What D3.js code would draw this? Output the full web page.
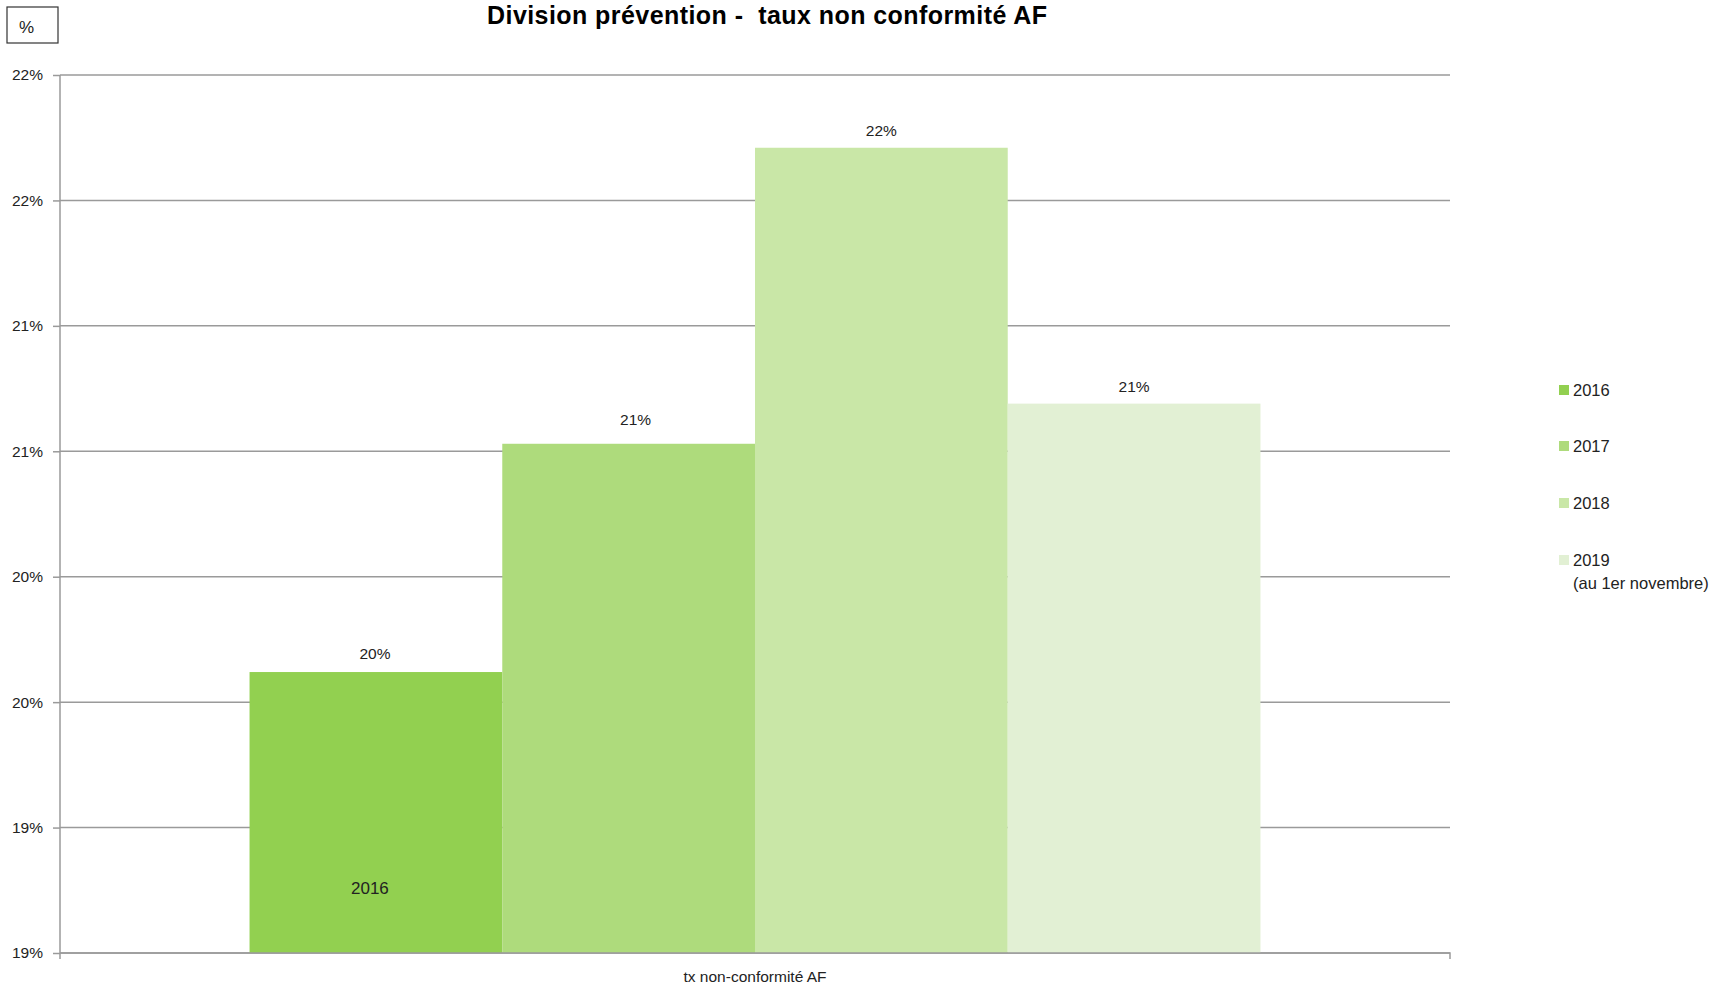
<!DOCTYPE html>
<html><head><meta charset="utf-8">
<script src="https://cdn.jsdelivr.net/npm/d3@7"></script>
<style>
html,body{margin:0;padding:0;background:#fff;}
svg{display:block;font-family:"Liberation Sans",Arial,sans-serif;}
</style></head>
<body><svg id="c" width="1735" height="987"></svg>
<script>
const categories = ["tx non-conformité AF"];
const years = ["2016", "2017", "2018", "2019"];
const legendLabels = [["2016"], ["2017"], ["2018"], ["2019", "(au 1er novembre)"]];
const values = [19.62, 20.53, 21.71, 20.69];
const colors = ["#92D050", "#AEDB7C", "#C9E7A7", "#E2F0D4"];
const yTicks = [18.5, 19, 19.5, 20, 20.5, 21, 21.5, 22];
const title = "Division prévention -  taux non conformité AF";
const unitLabel = "%";
const innerLabel = "2016";
// label placement tweaks (style only)
const labelDx = [-1, 7, 0, 0];
const labelDy = [-18, -24, -17, -17];

const svg = d3.select("#c");
const L = 60, R = 1450, T = 75, B = 953;
const pct = v => Math.round(v) + "%";

const y = d3.scaleLinear().domain([18.5, 22]).range([B, T]);
const x0 = d3.scaleBand().domain(categories).range([L, R]).paddingInner(0).paddingOuter(0.1875);
const x1 = d3.scaleBand().domain(years).range([0, x0.bandwidth()]).padding(0);

// gridlines
svg.append("g").selectAll("line").data(yTicks).join("line")
  .attr("x1", L).attr("x2", R).attr("y1", d => y(d)).attr("y2", d => y(d))
  .attr("stroke", "#9a9a9a").attr("stroke-width", 1.5);

// bars
const g = svg.append("g").attr("transform", `translate(${x0(categories[0])},0)`);
g.selectAll("rect").data(values).join("rect")
  .attr("x", (d, i) => x1(years[i])).attr("width", x1.bandwidth())
  .attr("y", d => y(d)).attr("height", d => B - y(d))
  .attr("fill", (d, i) => colors[i]);
g.selectAll("text.v").data(values).join("text").attr("class", "v")
  .attr("x", (d, i) => x1(years[i]) + x1.bandwidth() / 2 + labelDx[i])
  .attr("y", (d, i) => y(d) + labelDy[i]).attr("dy", "0.35em")
  .attr("text-anchor", "middle").attr("font-size", 15.5).attr("fill", "#222")
  .text(d => pct(d));
g.append("text").attr("x", x1(innerLabel) + x1.bandwidth() / 2 - 6)
  .attr("y", 888).attr("dy", "0.35em").attr("text-anchor", "middle")
  .attr("font-size", 17).attr("fill", "#222").text(innerLabel);

// y axis
const ya = svg.append("g").attr("transform", `translate(${L},0)`)
  .call(d3.axisLeft(y).tickValues(yTicks).tickFormat(pct).tickSize(7).tickPadding(10));
ya.select(".domain").attr("stroke", "#9a9a9a").attr("stroke-width", 1.5)
  .attr("d", `M0,${T}V${B + 6}`);
ya.selectAll(".tick line").attr("stroke", "#9a9a9a").attr("stroke-width", 1.5);
ya.selectAll(".tick text").attr("font-size", 15.5).attr("fill", "#222")
  .attr("font-family", "Liberation Sans, Arial, sans-serif");

// x axis
const xa = svg.append("g").attr("transform", `translate(0,${B})`)
  .call(d3.axisBottom(x0).tickSize(0).tickPadding(18));
xa.select(".domain").attr("stroke", "#9a9a9a").attr("stroke-width", 1.5)
  .attr("d", `M${L},0H${R}V6`);
xa.selectAll(".tick text").attr("font-size", 15.5).attr("fill", "#222")
  .attr("font-family", "Liberation Sans, Arial, sans-serif");

// title
svg.append("text").attr("x", 767).attr("y", 15).attr("dy", "0.35em")
  .attr("text-anchor", "middle").attr("font-size", 25).attr("font-weight", "bold")
  .attr("xml:space", "preserve").style("white-space", "pre")
  .attr("textLength", 560).attr("lengthAdjust", "spacing")
  .attr("fill", "#000").text(title);

// unit box
svg.append("rect").attr("x", 7).attr("y", 7).attr("width", 51).attr("height", 36)
  .attr("fill", "none").attr("stroke", "#333").attr("stroke-width", 1.2);
svg.append("text").attr("x", 19).attr("y", 27).attr("dy", "0.35em")
  .attr("font-size", 17).attr("fill", "#222").text(unitLabel);

// legend
const legY = [390, 446, 503, 560];
const lg = svg.append("g").selectAll("g").data(legendLabels).join("g")
  .attr("transform", (d, i) => `translate(1559,${legY[i]})`);
lg.append("rect").attr("x", 0).attr("y", -5).attr("width", 10).attr("height", 10)
  .attr("fill", (d, i) => colors[i]);
lg.each(function(d) {
  d3.select(this).selectAll("text").data(d).join("text")
    .attr("x", 14).attr("y", (t, j) => j * 23).attr("dy", "0.35em")
    .attr("font-size", 16.5).attr("fill", "#222").text(t => t);
});
</script></body></html>
